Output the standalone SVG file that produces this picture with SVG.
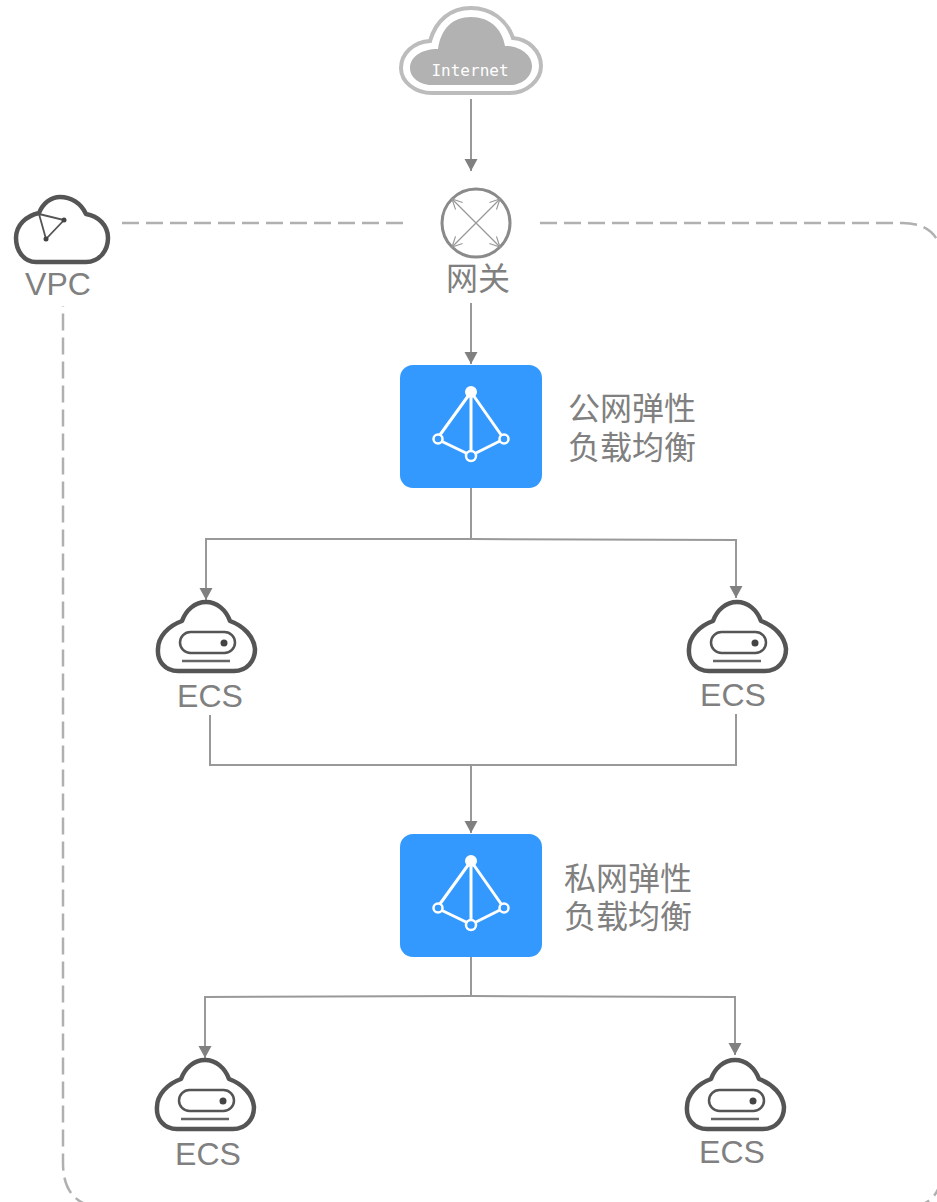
<svg xmlns="http://www.w3.org/2000/svg" width="937" height="1202" viewBox="0 0 937 1202">
<style>
text{font-family:"Liberation Sans","Noto Sans CJK SC",sans-serif;fill:#808080}
.lab{font-size:32px;text-anchor:middle}
.cn{font-size:32px}
.c{fill:none;stroke:#999;stroke-width:2}
.d{fill:none;stroke:#b0b0b0;stroke-width:2.5;stroke-dasharray:17 7}
.o{fill:none;stroke:#555;stroke-width:4.5;stroke-linejoin:round}
.w{fill:none;stroke:#fff;stroke-width:3}
</style>
<defs>
<marker id="a" markerUnits="userSpaceOnUse" markerWidth="14" markerHeight="14" refX="12" refY="6.5" orient="auto"><path d="M0 0L12 6.5L0 13Z" fill="#808080"/></marker>
<marker id="s" markerUnits="userSpaceOnUse" markerWidth="12" markerHeight="12" refX="10" refY="5" orient="auto"><path d="M0 0L10 5L0 10" fill="none" stroke="#999" stroke-width="1.2"/></marker>
<g id="ecsShape">
<path class="o" d="M-28 43H28C41 43 49 33 49 21C48 9 38 -2 24 -7C20 -18 11 -26 0 -26C-11 -26 -20 -18 -24 -7C-38 -2 -48 9 -48 21C-49 33 -41 43 -28 43Z"/>
<rect x="-26" y="4" width="55" height="21" rx="10.5" fill="none" stroke="#555" stroke-width="2.5"/>
<circle cx="18" cy="15" r="3.5" fill="#444"/>
<path d="M-24 33H24" stroke="#666" stroke-width="2.5"/>
</g>
<g id="elbShape">
<rect x="0" y="0" width="142" height="123" rx="13" fill="#3399ff"/>
<path class="w" d="M71 27L37 74M71 27V90M71 27L104 74M41 76L66 88M76 88L100 76"/>
<circle cx="71" cy="27" r="6" fill="#fff"/>
<circle cx="38" cy="74" r="4.5" fill="#3399ff" stroke="#fff" stroke-width="2.5"/>
<circle cx="104" cy="74" r="4.5" fill="#3399ff" stroke="#fff" stroke-width="2.5"/>
<circle cx="71" cy="91" r="5" fill="#3399ff" stroke="#fff" stroke-width="2.5"/>
</g>
</defs>
<rect width="937" height="1202" fill="#fff"/>
<g id="connectors">
<path class="d" d="M122 223H405M540 223H902Q942 223 942 263V1168Q942 1208 902 1208H108Q63 1208 63 1163V306"/>
<path class="c" marker-end="url(#a)" d="M471 99V171"/>
<path class="c" marker-end="url(#a)" d="M471 303V364"/>
<path class="c" d="M471 488V539"/>
<path class="c" marker-end="url(#a)" d="M471 539H206V600"/>
<path class="c" marker-end="url(#a)" d="M471 539L736 540V598"/>
<path class="c" d="M210 715V765H736V714"/>
<path class="c" marker-end="url(#a)" d="M471 765V833"/>
<path class="c" d="M471 957V996"/>
<path class="c" marker-end="url(#a)" d="M471 996L205 997V1058"/>
<path class="c" marker-end="url(#a)" d="M471 996L735 997V1055"/>
</g>
<g id="internet">
<path d="M432 93H510C527 93 541 80 541 66C541 51 528 39 513 38C507 20 491 8 471 8C451 8 436 20 430 41C414 42 401 53 401 68C401 82 415 93 432 93Z" fill="#fff" stroke="#bcbcbc" stroke-width="4"/>
<path d="M432 85H510C522 85 532 77 532 66C532 55 520 46 505 46C502 28 489 17 471 17C453 17 441 28 438 49C421 49 410 57 410 68C410 78 420 85 432 85Z" fill="#b2b2b2"/>
<text x="470" y="76" style="font-family:'DejaVu Sans Mono',monospace;font-size:16px;fill:#fff" text-anchor="middle">Internet</text>
</g>
<g id="gateway">
<circle cx="476" cy="223" r="34" fill="#fff" stroke="#8a8a8a" stroke-width="3"/>
<path class="c" style="stroke-width:1.3" marker-end="url(#s)" d="M476 223L452 199"/>
<path class="c" style="stroke-width:1.3" marker-end="url(#s)" d="M476 223L500 199"/>
<path class="c" style="stroke-width:1.3" marker-end="url(#s)" d="M476 223L452 247"/>
<path class="c" style="stroke-width:1.3" marker-end="url(#s)" d="M476 223L500 247"/>
<text class="cn" x="478" y="290" text-anchor="middle">网关</text>
</g>
<g id="vpc">
<path class="o" d="M36 262H86C99 262 108 251 108 238C108 225 98 216 86 214C81 203 71 197 60 197C51 197 43 203 39 213C26 216 16 225 16 238C16 251 24 262 36 262Z"/>
<path d="M39 214L64 220L46 239Z" fill="none" stroke="#555" stroke-width="1.8"/>
<circle cx="64" cy="220" r="2.5" fill="#444"/>
<circle cx="46" cy="239" r="2.5" fill="#444"/>
<text class="lab" x="58" y="295">VPC</text>
</g>
<g id="elb-public">
<use href="#elbShape" x="400" y="365"/>
<text class="cn" x="568" y="420">公网弹性</text>
<text class="cn" x="568" y="459">负载均衡</text>
</g>
<g id="elb-private">
<use href="#elbShape" x="400" y="834"/>
<text class="cn" x="564" y="890">私网弹性</text>
<text class="cn" x="564" y="928">负载均衡</text>
</g>
<g id="ecs1"><use href="#ecsShape" x="206" y="628"/><text class="lab" x="210" y="707">ECS</text></g>
<g id="ecs2"><use href="#ecsShape" x="737" y="628"/><text class="lab" x="733" y="706">ECS</text></g>
<g id="ecs3"><use href="#ecsShape" x="205" y="1086"/><text class="lab" x="208" y="1165">ECS</text></g>
<g id="ecs4"><use href="#ecsShape" x="735" y="1086"/><text class="lab" x="732" y="1163">ECS</text></g>
</svg>
